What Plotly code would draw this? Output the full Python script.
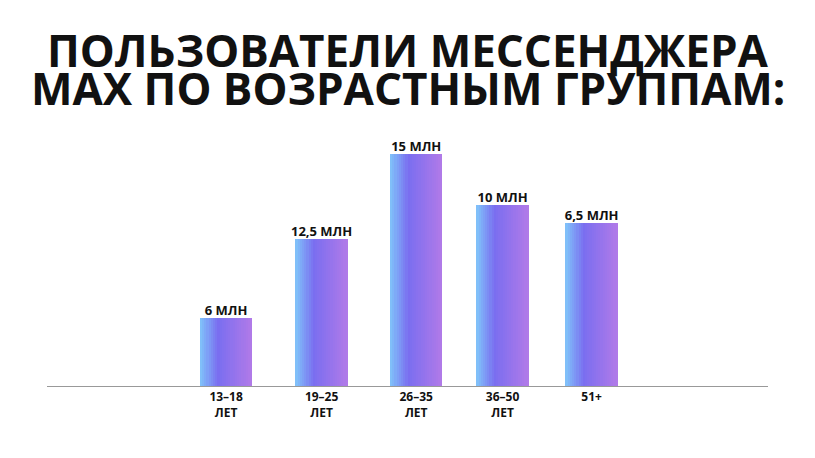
import plotly.graph_objects as go

categories = ["13–18<br>ЛЕТ", "19–25<br>ЛЕТ", "26–35<br>ЛЕТ", "36–50<br>ЛЕТ", "51+"]
value_labels = ["6 МЛН", "12,5 МЛН", "15 МЛН", "10 МЛН", "6,5 МЛН"]
# bar heights as drawn in the picture (not proportional to the labels)
bar_heights = [68, 147, 232, 181, 163]
positions = [0, 1.04, 2.07, 3.01, 3.98]
title_lines = ["ПОЛЬЗОВАТЕЛИ МЕССЕНДЖЕРА", "MAX ПО ВОЗРАСТНЫМ ГРУППАМ:"]

stops = [(0.0, (128, 196, 250)), (0.35, (122, 110, 240)), (1.0, (178, 122, 232))]


def grad(t):
    for (t0, c0), (t1, c1) in zip(stops, stops[1:]):
        if t <= t1:
            f = (t - t0) / (t1 - t0)
            return "rgb(%d,%d,%d)" % tuple(round(a + (b - a) * f) for a, b in zip(c0, c1))
    return "rgb(%d,%d,%d)" % stops[-1][1]


fig = go.Figure()
n = 24
bw = 0.57
for i in range(n):
    fig.add_bar(
        x=positions, y=bar_heights, width=bw / n, offset=-bw / 2 + i * bw / n,
        marker=dict(color=grad((i + 0.5) / n), line_width=0),
        hoverinfo="skip", showlegend=False,
    )

fig.add_scatter(
    x=positions, y=bar_heights, mode="text", text=["<b>%s</b>" % t for t in value_labels],
    textposition="top center", cliponaxis=False, showlegend=False,
    textfont=dict(family="Open Sans", size=13, color="#111"),
)

for line, yy in zip(title_lines, [1.263, 1.12]):
    fig.add_annotation(
        text="<b>%s</b>" % line, xref="paper", yref="paper", x=0.5, y=yy,
        xanchor="center", yanchor="middle", showarrow=False,
        font=dict(family="Open Sans", size=44, color="#111"),
    )

fig.update_layout(
    width=815, height=458, barmode="overlay", bargap=0,
    plot_bgcolor="white", paper_bgcolor="white",
    margin=dict(l=39, r=55, t=112, b=80),
    font=dict(family="Open Sans", color="#111"),
)
fig.update_xaxes(
    range=[-1.95, 5.9], tickvals=positions, ticktext=["<b>%s</b>" % c for c in categories],
    tickfont=dict(size=12, color="#111"), showgrid=False, zeroline=False,
    showline=True, linecolor="#999", linewidth=1, ticks="",
)
fig.update_yaxes(range=[0, 266], visible=False)

fig.write_html("out.html")
